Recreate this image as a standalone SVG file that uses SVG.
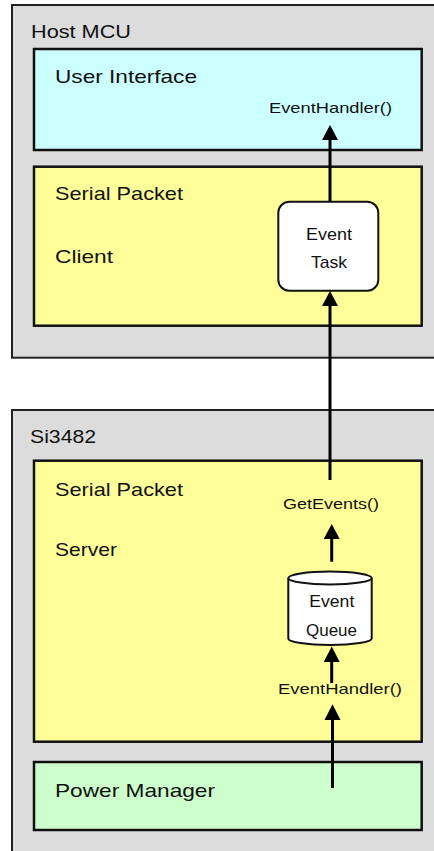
<svg xmlns="http://www.w3.org/2000/svg" width="434" height="851" viewBox="0 0 434 851">
<style>
.outer{fill:#dcdcdc;stroke:#222;stroke-width:2}
.box{stroke:#111;stroke-width:2.5}
.lbl{font-family:"Liberation Sans",Arial,sans-serif;font-size:19px;fill:#111}
.sm{font-family:"Liberation Sans",Arial,sans-serif;font-size:15px;fill:#111}
.sh{font-family:"Liberation Sans",Arial,sans-serif;font-size:17px;fill:#111}
.conn{stroke:#000;stroke-width:3;fill:none}
.head{fill:#000}
.shape{fill:#fff;stroke:#111;stroke-width:2}
</style>
<g id="host-mcu">
<rect class="outer" x="12" y="5" width="440" height="352.7"/>
<text class="lbl" x="31" y="38" textLength="100" lengthAdjust="spacingAndGlyphs">Host MCU</text>
</g>
<g id="user-interface">
<rect class="box" x="34" y="49" width="387.7" height="101" fill="#ccffff"/>
<text class="lbl" x="55" y="83" textLength="142" lengthAdjust="spacingAndGlyphs">User Interface</text>
<text class="sm" x="269" y="113" textLength="123" lengthAdjust="spacingAndGlyphs">EventHandler()</text>
</g>
<g id="serial-packet-client">
<rect class="box" x="34" y="166.7" width="387.7" height="159" fill="#ffff99"/>
<text class="lbl" x="55" y="200" textLength="128" lengthAdjust="spacingAndGlyphs">Serial Packet</text>
<text class="lbl" x="55" y="263.3" textLength="58" lengthAdjust="spacingAndGlyphs">Client</text>
</g>
<g id="event-task">
<rect class="shape" x="278.3" y="201.7" width="100" height="89" rx="11" ry="11"/>
<text class="sh" x="306" y="240" textLength="46" lengthAdjust="spacingAndGlyphs">Event</text>
<text class="sh" x="311" y="267.7" textLength="36" lengthAdjust="spacingAndGlyphs">Task</text>
</g>
<g id="si3482">
<rect class="outer" x="12" y="410" width="440" height="450"/>
<text class="lbl" x="30" y="442.7" textLength="66" lengthAdjust="spacingAndGlyphs">Si3482</text>
</g>
<g id="serial-packet-server">
<rect class="box" x="34" y="460.7" width="387.7" height="281" fill="#ffff99"/>
<text class="lbl" x="55" y="495.7" textLength="128" lengthAdjust="spacingAndGlyphs">Serial Packet</text>
<text class="lbl" x="55" y="556" textLength="62" lengthAdjust="spacingAndGlyphs">Server</text>
<text class="sm" x="283" y="509" textLength="96" lengthAdjust="spacingAndGlyphs">GetEvents()</text>
<text class="sm" x="278" y="694" textLength="124" lengthAdjust="spacingAndGlyphs">EventHandler()</text>
</g>
<g id="event-queue">
<path class="shape" d="M288.3,578 A41.7,6.5 0 0 1 371.7,578 L371.7,638.5 A41.7,6.5 0 0 1 288.3,638.5 Z"/>
<path class="shape" fill="none" d="M288.3,578 A41.7,6.5 0 0 0 371.7,578"/>
<text class="sh" x="309.3" y="606.7" textLength="45" lengthAdjust="spacingAndGlyphs">Event</text>
<text class="sh" x="306" y="636" textLength="51" lengthAdjust="spacingAndGlyphs">Queue</text>
</g>
<g id="power-manager">
<rect class="box" x="34" y="762" width="387.7" height="68" fill="#ccffcc"/>
<text class="lbl" x="55" y="796.7" textLength="160" lengthAdjust="spacingAndGlyphs">Power Manager</text>
</g>
<g id="connectors">
<line class="conn" x1="330" y1="201.7" x2="330" y2="138"/>
<polygon class="head" points="330,125 322,140 338,140"/>
<line class="conn" x1="330" y1="480" x2="330" y2="304"/>
<polygon class="head" points="330,291 322,306 338,306"/>
<line class="conn" x1="331.7" y1="561.7" x2="331.7" y2="536"/>
<polygon class="head" points="331.7,524 323.7,539 339.7,539"/>
<line class="conn" x1="331.7" y1="683" x2="331.7" y2="660"/>
<polygon class="head" points="331.7,646.5 323.7,662 339.7,662"/>
<line class="conn" x1="332.5" y1="788" x2="332.5" y2="718"/>
<polygon class="head" points="332.5,704.3 324.5,720 340.5,720"/>
</g>
</svg>
